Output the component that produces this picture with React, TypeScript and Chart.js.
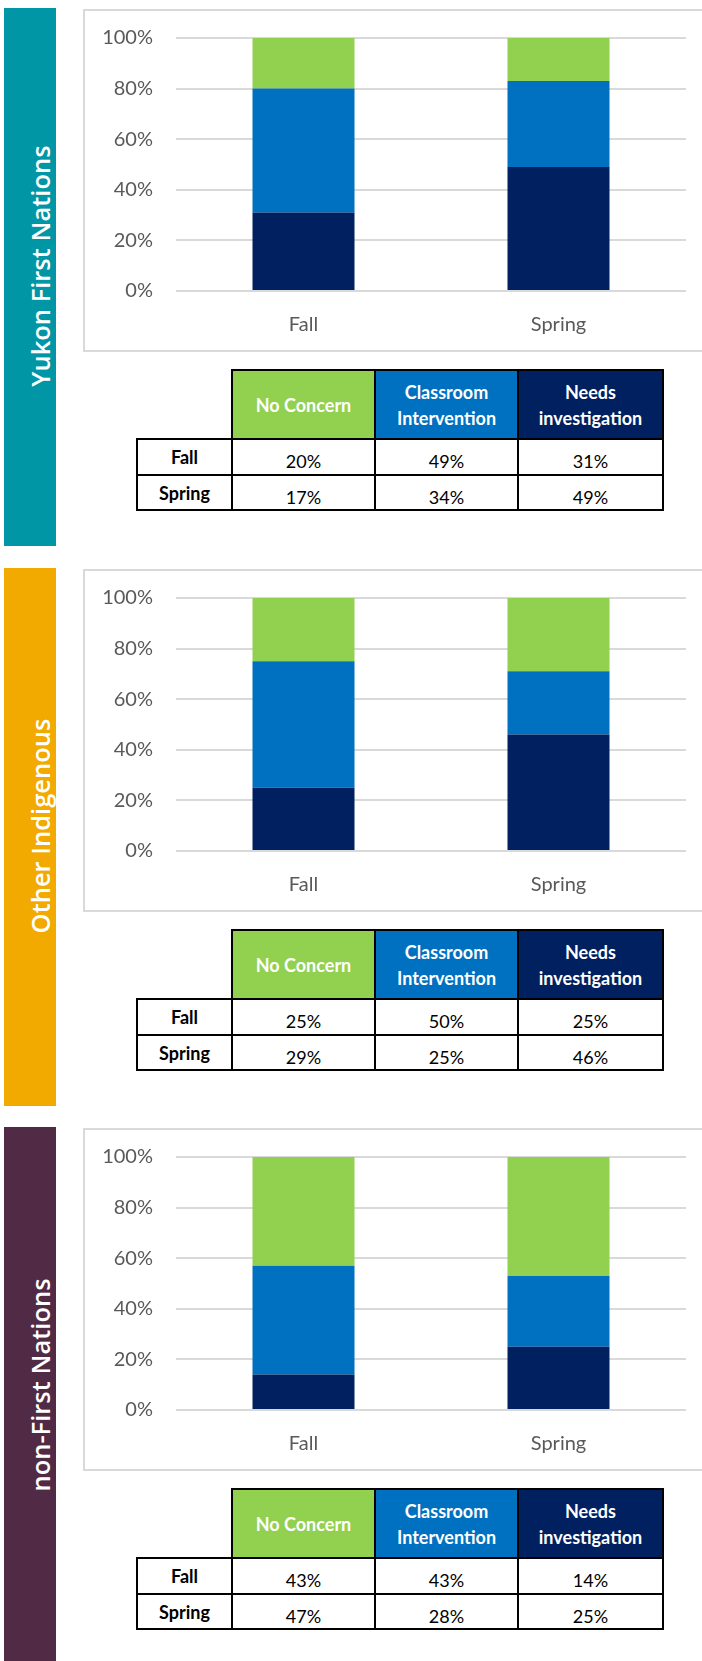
import React, { useEffect, useRef } from "react";
import { Chart, registerables } from "chart.js";

Chart.register(...registerables);

// ---------- data ----------
const categories = ["Fall", "Spring"];
const groupNames = ["Yukon First Nations", "Other Indigenous", "non-First Nations"];
const seriesNames = ["No Concern", "Classroom Intervention", "Needs investigation"];
const headerLines = [["No Concern"], ["Classroom", "Intervention"], ["Needs", "investigation"]];

const yukonNoConcern = [20, 17];
const yukonClassroom = [49, 34];
const yukonNeeds = [31, 49];

const otherNoConcern = [25, 29];
const otherClassroom = [50, 25];
const otherNeeds = [25, 46];

const nonFnNoConcern = [43, 47];
const nonFnClassroom = [43, 28];
const nonFnNeeds = [14, 25];

const yTickValues = [0, 20, 40, 60, 80, 100];

// ---------- styles ----------
const GREEN = "#92D050";
const BLUE = "#0070C0";
const NAVY = "#002060";
const seriesColors = [GREEN, BLUE, NAVY];
const panelColors = ["#0096a6", "#f2a900", "#512b45"];
const sectionTops = [8, 568, 1127];
const colX = [137, 232, 375, 518, 663];
const rowY = [0, 69, 105, 140];

type SectionProps = {
  top: number;
  name: string;
  panelColor: string;
  noConcern: number[];
  classroom: number[];
  needs: number[];
  last: boolean;
};

function BarCanvas({ noConcern, classroom, needs }: { noConcern: number[]; classroom: number[]; needs: number[] }) {
  const ref = useRef<HTMLCanvasElement | null>(null);
  useEffect(() => {
    if (!ref.current) return;
    const tickFont = { family: "Lato", size: 20 };
    const chart = new Chart(ref.current, {
      type: "bar",
      data: {
        labels: categories,
        datasets: [
          { label: seriesNames[2], data: needs, backgroundColor: NAVY, borderWidth: 0, categoryPercentage: 1, barPercentage: 0.4 },
          { label: seriesNames[1], data: classroom, backgroundColor: BLUE, borderWidth: 0, categoryPercentage: 1, barPercentage: 0.4 },
          { label: seriesNames[0], data: noConcern, backgroundColor: GREEN, borderWidth: 0, categoryPercentage: 1, barPercentage: 0.4 },
        ],
      },
      options: {
        animation: false,
        responsive: false,
        maintainAspectRatio: false,
        devicePixelRatio: 1,
        layout: { padding: { top: 27, right: 16, left: 0, bottom: 0 } },
        plugins: { legend: { display: false }, tooltip: { enabled: false } },
        scales: {
          x: {
            stacked: true,
            grid: { display: false, drawTicks: false },
            border: { display: false },
            ticks: { color: "#595959", font: tickFont, padding: 22 },
            afterFit: (s: any) => {
              s.height = 59;
            },
          },
          y: {
            stacked: true,
            min: 0,
            max: 100,
            grid: { color: "#d9d9d9", lineWidth: 2, drawTicks: false },
            border: { display: false },
            afterBuildTicks: (s: any) => {
              s.ticks = yTickValues.map((v) => ({ value: v }));
            },
            ticks: {
              color: "#595959",
              font: tickFont,
              padding: 23,
              callback: (v: any) => v + "%",
            },
            afterFit: (s: any) => {
              s.width = 91;
              s.paddingTop = 0;
              s.paddingBottom = 0;
            },
          },
        },
      },
    } as any);
    return () => chart.destroy();
  }, [noConcern, classroom, needs]);
  return <canvas ref={ref} width={617} height={339} style={{ width: 617, height: 339, display: "block" }} />;
}

function Section({ top, name, panelColor, noConcern, classroom, needs, last }: SectionProps) {
  const values = [noConcern, classroom, needs];
  const cells: React.ReactNode[] = [];
  for (let c = 0; c < 3; c++) {
    cells.push(
      <div
        key={"h" + c}
        style={{
          position: "absolute",
          left: colX[c + 1] - 1,
          top: rowY[0] - 1,
          width: colX[c + 2] - colX[c + 1] + 2,
          height: rowY[1] - rowY[0] + 2,
          boxSizing: "border-box",
          border: "2px solid #000",
          background: seriesColors[c],
          color: "#fff",
          fontWeight: 700,
          fontSize: 18,
          lineHeight: "26px",
          display: "flex",
          flexDirection: "column",
          alignItems: "center",
          justifyContent: "center",
          textAlign: "center",
        }}
      >
        {headerLines[c].map((l, i) => (
          <div key={i}>{l}</div>
        ))}
      </div>
    );
  }
  for (let r = 0; r < categories.length; r++) {
    const t = rowY[r + 1] - 1;
    const h = rowY[r + 2] - rowY[r + 1] + 2;
    cells.push(
      <div
        key={"r" + r}
        style={{
          position: "absolute",
          left: colX[0] - 1,
          top: t,
          width: colX[1] - colX[0] + 2,
          height: h,
          boxSizing: "border-box",
          border: "2px solid #000",
          fontWeight: 700,
          fontSize: 18,
          display: "flex",
          alignItems: "center",
          justifyContent: "center",
          color: "#000",
        }}
      >
        {categories[r]}
      </div>
    );
    for (let c = 0; c < 3; c++) {
      cells.push(
        <div
          key={"v" + r + "_" + c}
          style={{
            position: "absolute",
            left: colX[c + 1] - 1,
            top: t,
            width: colX[c + 2] - colX[c + 1] + 2,
            height: h,
            boxSizing: "border-box",
            border: "2px solid #000",
            fontSize: 18,
            display: "flex",
            alignItems: "center",
            justifyContent: "center",
            paddingTop: 8,
            color: "#000",
          }}
        >
          {values[c][r] + "%"}
        </div>
      );
    }
  }

  return (
    <>
      <div
        style={{
          position: "absolute",
          left: 4,
          top: top,
          width: 52,
          height: last ? 560 : 538,
          background: panelColor,
        }}
      />
      <div
        style={{
          position: "absolute",
          left: 40,
          top: top + 258,
          transform: "translate(-50%, -50%) rotate(-90deg)",
          color: "#fff",
          fontFamily: "'Open Sans'",
          fontWeight: 600,
          fontSize: 25.5,
          whiteSpace: "nowrap",
        }}
      >
        {name}
      </div>
      <div
        style={{
          position: "absolute",
          left: 83,
          top: top + 1,
          width: 640,
          height: 343,
          boxSizing: "border-box",
          border: "2px solid #d9d9d9",
          background: "#fff",
        }}
      >
        <div style={{ position: "absolute", left: 0, top: 0 }}>
          <BarCanvas noConcern={noConcern} classroom={classroom} needs={needs} />
        </div>
      </div>
      <div style={{ position: "absolute", left: 0, top: top + 362, fontFamily: "Lato" }}>{cells}</div>
    </>
  );
}

export default function App() {
  const groups = [
    { noConcern: yukonNoConcern, classroom: yukonClassroom, needs: yukonNeeds },
    { noConcern: otherNoConcern, classroom: otherClassroom, needs: otherNeeds },
    { noConcern: nonFnNoConcern, classroom: nonFnClassroom, needs: nonFnNeeds },
  ];
  return (
    <div
      style={{
        position: "absolute",
        left: 0,
        top: 0,
        width: 702,
        height: 1661,
        overflow: "hidden",
        background: "#fff",
        fontFamily: "Lato",
      }}
    >
      {groups.map((g, i) => (
        <Section
          key={i}
          top={sectionTops[i]}
          name={groupNames[i]}
          panelColor={panelColors[i]}
          noConcern={g.noConcern}
          classroom={g.classroom}
          needs={g.needs}
          last={i === groups.length - 1}
        />
      ))}
    </div>
  );
}
